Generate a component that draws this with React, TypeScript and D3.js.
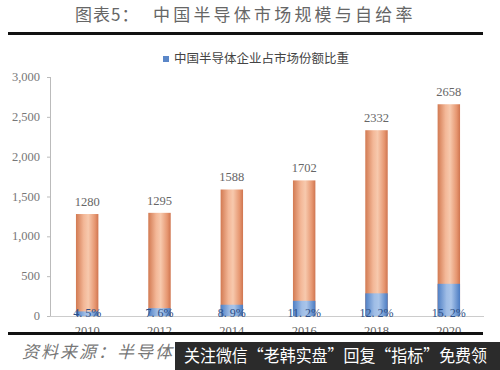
import React from "react";
import * as d3 from "d3";

const years = ["2010", "2012", "2014", "2016", "2018", "2020"];
const marketSize = [1280, 1295, 1588, 1702, 2332, 2658];
const selfShare = [4.5, 7.6, 8.9, 11.2, 12.2, 15.2];
const shareLabels = ["4. 5%", "7. 6%", "8. 9%", "11. 2%", "12. 2%", "15. 2%"];
const yTicks = [0, 500, 1000, 1500, 2000, 2500, 3000];

const W = 500;
const H = 370;

export default function App() {
  const x = d3.scaleBand<string>().domain(years).range([51, 485]).paddingInner(0.69).paddingOuter(0.345);
  const y = d3.scaleLinear().domain([0, 3000]).range([316, 77]);
  const fmt = d3.format(",");
  const serif = "'Liberation Serif', 'DejaVu Serif', serif";
  const cjk = "'Noto Sans CJK SC', sans-serif";

  return (
    <svg width={W} height={H} style={{ position: "absolute", left: 0, top: 0, background: "#fff" }}>
      <defs>
        <linearGradient id="og" x1="0" x2="1" y1="0" y2="0">
          <stop offset="0" stopColor="#d27a52" />
          <stop offset="0.35" stopColor="#f3b797" />
          <stop offset="0.55" stopColor="#f7c9ad" />
          <stop offset="0.85" stopColor="#e69670" />
          <stop offset="1" stopColor="#cf7550" />
        </linearGradient>
        <linearGradient id="bg" x1="0" x2="1" y1="0" y2="0">
          <stop offset="0" stopColor="#4f7fc4" />
          <stop offset="0.4" stopColor="#9fbde6" />
          <stop offset="0.6" stopColor="#a9c5ea" />
          <stop offset="1" stopColor="#4a7bc2" />
        </linearGradient>
      </defs>
      <rect x={0} y={0} width={W} height={H} fill="#fff" />
      {/* title */}
      <text x={75} y={21} fontFamily={cjk} fontSize={17} fill="#666" letterSpacing={1}>
        图表5：
      </text>
      <text x={153} y={21} fontFamily={cjk} fontSize={17} fill="#666" letterSpacing={3.2}>
        中国半导体市场规模与自给率
      </text>
      <rect x={8} y={32} width={475} height={3} fill="#111" />

      {/* legend */}
      <rect x={163} y={56} width={6} height={6} fill="#5b87c8" />
      <text x={174} y={63} fontFamily={cjk} fontSize={12.5} fill="#444">
        中国半导体企业占市场份额比重
      </text>

      {/* y axis */}
      <line x1={50.5} x2={50.5} y1={y(3000)} y2={y(0)} stroke="#bbb" />
      {yTicks.map((t) => (
        <g key={t}>
          <line x1={47} x2={50.5} y1={y(t) + 0.5} y2={y(t) + 0.5} stroke="#bbb" />
          <text x={40} y={y(t) + 4} textAnchor="end" fontFamily={serif} fontSize={12.5} fill="#777">
            {fmt(t)}
          </text>
        </g>
      ))}
      <line x1={50} x2={484} y1={316.5} y2={316.5} stroke="#ccc" />

      {/* bars */}
      {years.map((yr, i) => {
        const bx = x(yr)!;
        const bw = x.bandwidth();
        const total = marketSize[i];
        const blue = (total * selfShare[i]) / 100;
        return (
          <g key={yr}>
            <rect x={bx} y={y(total)} width={bw} height={y(0) - y(total)} fill="url(#og)" />
            <rect x={bx} y={y(blue)} width={bw} height={y(0) - y(blue)} fill="url(#bg)" />
            <text x={bx + bw / 2} y={y(total) - 8} textAnchor="middle" fontFamily={serif} fontSize={12.5} fill="#666">
              {total}
            </text>
            <text x={bx + bw / 2} y={317} textAnchor="middle" fontFamily={serif} fontSize={12} fill="#2e4f86">
              {shareLabels[i]}
            </text>
            <text x={bx + bw / 2} y={335} textAnchor="middle" fontFamily={serif} fontSize={12.5} fill="#666">
              {yr}
            </text>
          </g>
        );
      })}

      {/* bottom rule */}
      <rect x={8} y={332} width={475} height={3} fill="#111" />
      <text x={22} y={358} fontFamily={cjk} fontSize={17} fontStyle="italic" fill="#777" letterSpacing={2}>
        资料来源：半导体
      </text>

      {/* watermark */}
      <rect x={175} y={342} width={325} height={28} fill="#2b2b2b" />
      <text x={184} y={362} fontFamily={cjk} fontSize={16.5} fill="#fff" textLength={303} lengthAdjust="spacingAndGlyphs">
        关注微信“老韩实盘”回复“指标”免费领
      </text>
    </svg>
  );
}
